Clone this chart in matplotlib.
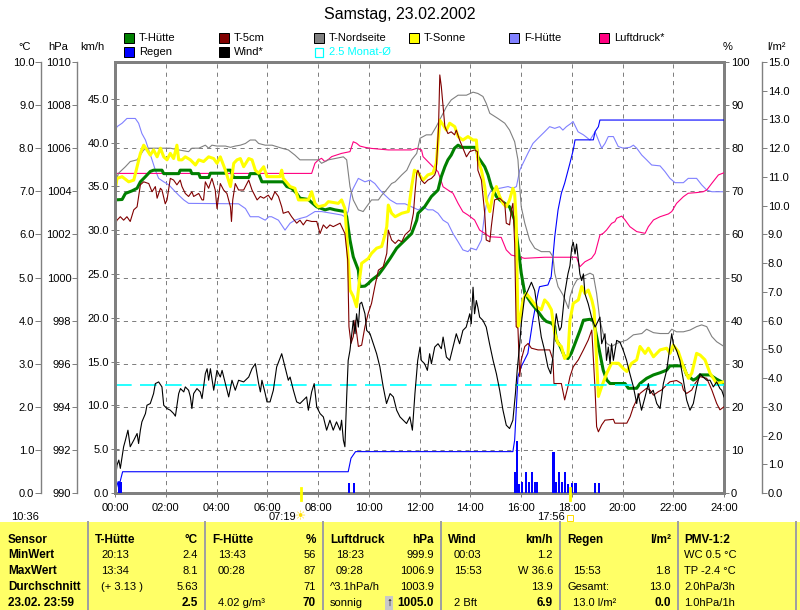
import matplotlib.pyplot as plt
import numpy as np
from matplotlib.patches import Rectangle

plt.rcParams['font.family'] = ['Liberation Sans', 'DejaVu Sans']
plt.rcParams['font.size'] = 8
plt.rcParams['lines.scale_dashes'] = False

# ---- data: (hour, value) ----
t_huette = [(0.00, 6.80), (0.28, 6.81), (0.41, 6.95), (0.67, 7.01), (0.87, 7.07), (1.00, 7.22), (1.20, 7.34),
            (1.39, 7.46), (1.52, 7.49), (1.85, 7.49), (1.92, 7.41), (2.51, 7.41), (2.57, 7.49), (2.97, 7.49),
            (3.03, 7.41), (3.30, 7.41), (3.36, 7.32), (3.69, 7.32), (3.76, 7.42), (4.35, 7.42), (4.41, 7.49),
            (4.55, 7.49), (4.68, 7.32), (5.27, 7.32), (5.33, 7.41), (5.66, 7.41), (5.79, 7.22), (6.63, 7.22),
            (6.77, 7.11), (6.96, 7.07), (7.16, 6.95), (7.29, 6.84), (7.62, 6.81), (7.75, 6.74), (7.95, 6.64),
            (8.28, 6.57), (8.47, 6.60), (8.67, 6.57), (9.06, 6.53), (9.13, 6.41), (9.26, 5.87), (9.39, 5.48),
            (9.59, 5.17), (9.65, 4.79), (9.85, 4.80), (9.98, 4.86), (10.11, 4.94), (10.38, 5.06), (10.57, 5.21),
            (10.84, 5.44), (11.10, 5.68), (11.43, 5.87), (11.69, 6.02), (11.89, 6.33), (11.94, 6.49),
            (12.20, 6.64), (12.47, 6.88), (12.73, 7.03), (12.86, 7.34), (13.00, 7.57), (13.12, 7.73),
            (13.25, 7.84), (13.38, 8.00), (13.52, 8.07), (13.65, 8.02), (14.24, 8.02), (14.30, 7.80),
            (14.57, 7.57), (14.70, 7.38), (14.83, 7.11), (15.03, 6.88), (15.16, 6.80), (15.36, 6.72),
            (15.55, 6.64), (15.75, 6.33), (15.88, 5.72), (16.01, 5.10), (16.15, 4.63), (16.41, 4.40),
            (16.67, 4.21), (16.87, 4.05), (17.00, 3.98), (17.20, 3.94), (17.33, 3.86), (17.39, 3.55),
            (17.52, 3.43), (17.72, 3.16), (17.85, 3.12), (17.98, 3.24), (18.13, 3.47), (18.33, 3.78),
            (18.46, 4.01), (18.72, 4.03), (18.85, 4.01), (18.98, 3.63), (19.11, 3.24), (19.24, 2.85),
            (19.38, 2.62), (19.51, 2.54), (20.10, 2.54), (20.23, 2.43), (20.56, 2.43), (20.69, 2.54),
            (20.95, 2.66), (21.22, 2.74), (21.48, 2.79), (21.74, 2.85), (21.87, 2.95), (22.40, 2.95),
            (22.53, 2.74), (22.79, 2.62), (22.92, 2.66), (23.06, 2.74), (23.45, 2.74), (23.71, 2.64),
            (23.91, 2.58), (24.00, 2.54)]

t_sonne = [(0.00, 6.99), (0.08, 7.30), (0.28, 7.34), (0.54, 7.22), (0.74, 7.26), (0.87, 7.57), (1.00, 7.88),
           (1.13, 8.07), (1.26, 7.96), (1.39, 7.84), (1.52, 7.96), (1.66, 7.80), (1.79, 8.00), (1.92, 7.80),
           (2.05, 7.73), (2.18, 7.88), (2.31, 7.76), (2.44, 8.07), (2.51, 7.73), (2.64, 7.73), (2.77, 7.80),
           (2.97, 7.73), (3.17, 7.61), (3.30, 7.73), (3.49, 7.69), (3.69, 7.80), (3.89, 7.76), (4.02, 7.65),
           (4.15, 7.80), (4.35, 7.49), (4.55, 7.11), (4.68, 7.65), (4.81, 7.73), (4.94, 7.76), (5.07, 7.57),
           (5.27, 7.76), (5.40, 7.73), (5.53, 7.49), (5.66, 7.42), (5.86, 7.57), (5.99, 7.34), (6.50, 7.34),
           (6.57, 7.49), (6.63, 7.30), (6.90, 7.11), (7.09, 7.07), (7.23, 6.80), (7.62, 6.80), (7.75, 6.99),
           (7.88, 6.72), (8.01, 6.64), (8.28, 6.68), (8.41, 6.76), (8.80, 6.72), (8.93, 6.80), (9.06, 6.60),
           (9.13, 6.02), (9.19, 5.41), (9.26, 4.71), (9.39, 4.56), (9.52, 4.32), (9.65, 5.02), (9.72, 5.33),
           (9.98, 5.44), (10.11, 5.56), (10.31, 5.68), (10.51, 5.72), (10.64, 5.99), (10.71, 6.18),
           (10.77, 6.68), (10.90, 6.49), (11.04, 6.41), (11.30, 6.49), (11.56, 6.53), (11.69, 7.11),
           (11.80, 7.49), (11.95, 7.42), (12.14, 7.26), (12.33, 7.38), (12.53, 7.42), (12.66, 7.65),
           (12.80, 8.65), (12.93, 8.54), (13.06, 8.42), (13.19, 8.58), (13.39, 8.50), (13.52, 8.27),
           (13.71, 8.19), (13.91, 8.27), (14.11, 8.19), (14.24, 8.19), (14.30, 7.73), (14.44, 7.49),
           (14.57, 7.11), (14.63, 6.80), (14.77, 6.53), (14.90, 6.95), (15.03, 7.11), (15.16, 6.88),
           (15.29, 6.72), (15.42, 6.64), (15.55, 6.80), (15.68, 7.07), (15.75, 6.95), (15.81, 6.33),
           (15.88, 3.86), (15.95, 4.01), (16.08, 4.48), (16.21, 4.63), (16.41, 4.48), (16.61, 4.32),
           (16.80, 4.25), (16.93, 4.48), (17.06, 4.40), (17.20, 4.25), (17.33, 3.70), (17.46, 3.47),
           (17.59, 3.40), (17.72, 3.12), (17.85, 3.20), (17.93, 4.01), (18.06, 4.40), (18.26, 4.48),
           (18.39, 4.79), (18.52, 4.63), (18.65, 4.71), (18.79, 4.48), (18.88, 4.25), (18.98, 3.09),
           (19.05, 2.24), (19.18, 2.47), (19.38, 2.78), (19.57, 3.01), (19.84, 3.01), (20.03, 2.89),
           (20.17, 2.82), (20.36, 3.01), (20.56, 3.09), (20.69, 3.40), (20.89, 3.24), (21.02, 3.36),
           (21.22, 3.16), (21.48, 3.32), (21.74, 3.36), (21.87, 3.24), (22.00, 3.43), (22.20, 3.28),
           (22.40, 2.93), (22.60, 2.66), (22.73, 2.78), (22.92, 3.24), (23.06, 3.20), (23.25, 3.09),
           (23.45, 2.78), (23.71, 2.54), (24.00, 2.58)]

t_5cm = [(0.00, 6.22), (0.08, 6.33), (0.21, 6.41), (0.34, 6.33), (0.47, 6.41), (0.60, 6.30), (0.74, 6.57),
         (0.87, 6.64), (1.00, 7.15), (1.13, 7.22), (1.33, 7.18), (1.46, 6.99), (1.59, 7.11), (1.66, 6.84),
         (1.79, 7.07), (1.85, 7.03), (1.98, 6.71), (2.05, 6.80), (2.18, 7.30), (2.31, 7.26), (2.44, 7.15),
         (2.57, 7.26), (2.64, 7.11), (2.77, 6.95), (2.90, 6.88), (3.03, 6.99), (3.10, 6.88), (3.30, 6.95),
         (3.43, 6.80), (3.49, 6.80), (3.56, 7.22), (3.69, 7.07), (3.82, 7.30), (3.95, 7.03), (4.02, 6.60),
         (4.15, 7.18), (4.28, 7.03), (4.41, 6.95), (4.55, 6.64), (4.59, 6.30), (4.64, 6.80), (4.74, 7.18),
         (4.87, 7.03), (5.07, 7.03), (5.27, 7.26), (5.40, 7.03), (5.60, 6.80), (5.73, 6.88), (5.86, 6.84),
         (6.04, 6.91), (6.17, 6.80), (6.30, 6.99), (6.44, 6.88), (6.57, 6.64), (6.63, 6.49), (6.83, 6.53),
         (6.96, 6.41), (7.16, 6.26), (7.29, 6.33), (7.42, 6.22), (7.55, 6.33), (7.75, 6.30), (7.95, 6.30),
         (8.08, 6.02), (8.21, 6.22), (8.34, 6.14), (8.47, 6.22), (8.60, 6.18), (8.74, 6.22), (8.87, 6.26),
         (9.06, 6.02), (9.17, 5.41), (9.22, 3.86), (9.30, 3.47), (9.39, 3.63), (9.46, 4.01), (9.59, 3.40),
         (9.72, 3.43), (9.85, 3.86), (9.98, 4.17), (10.11, 4.40), (10.24, 4.79), (10.38, 5.17),
         (10.57, 5.25), (10.71, 5.56), (10.77, 6.10), (10.90, 5.87), (11.04, 5.79), (11.17, 5.87),
         (11.30, 5.83), (11.43, 5.99), (11.63, 6.10), (11.76, 6.49), (11.82, 6.95), (11.89, 7.42),
         (11.94, 7.49), (12.07, 7.26), (12.20, 7.18), (12.33, 7.26), (12.47, 7.30), (12.60, 7.38),
         (12.66, 7.49), (12.75, 8.50), (12.80, 9.70), (12.86, 9.43), (12.93, 8.96), (13.00, 8.50),
         (13.12, 8.34), (13.25, 8.38), (13.38, 8.31), (13.45, 8.42), (13.58, 8.19), (13.71, 8.00),
         (13.85, 7.80), (13.98, 7.92), (14.17, 7.96), (14.28, 7.92), (14.30, 7.49), (14.44, 7.26),
         (14.57, 6.49), (14.63, 5.87), (14.77, 5.83), (14.83, 6.18), (14.96, 6.80), (15.16, 6.84),
         (15.36, 6.72), (15.42, 6.26), (15.55, 6.22), (15.62, 6.57), (15.68, 6.72), (15.75, 5.79),
         (15.81, 3.86), (15.88, 3.82), (15.95, 2.70), (16.01, 3.09), (16.15, 3.40), (16.28, 3.47),
         (16.41, 3.36), (16.67, 3.32), (17.13, 3.32), (17.26, 3.09), (17.30, 2.54), (17.59, 2.54),
         (17.72, 2.16), (17.85, 2.47), (17.93, 2.70), (18.06, 2.93), (18.26, 3.09), (18.46, 3.32),
         (18.65, 3.55), (18.79, 3.78), (18.92, 2.39), (18.98, 1.54), (19.05, 1.42), (19.18, 1.58),
         (19.31, 1.69), (19.64, 1.71), (19.70, 1.62), (20.17, 1.62), (20.30, 1.77), (20.43, 2.00),
         (20.56, 2.16), (20.69, 2.31), (20.95, 2.43), (21.08, 2.39), (21.22, 2.27), (21.41, 2.35),
         (21.54, 2.39), (21.74, 2.51), (21.87, 2.58), (22.13, 2.61), (22.33, 2.54), (22.40, 2.39),
         (22.53, 2.31), (22.73, 2.39), (22.86, 2.54), (23.06, 2.70), (23.32, 2.66), (23.52, 2.39),
         (23.71, 2.08), (23.84, 1.93), (24.00, 2.00)]

t_nord = [(0.00, 7.18), (0.14, 7.42), (0.41, 7.57), (0.60, 7.69), (0.87, 7.73), (1.00, 7.84), (1.13, 7.96),
          (1.33, 8.00), (2.18, 8.00), (2.51, 7.96), (2.90, 7.92), (3.03, 8.00), (3.30, 8.00), (3.56, 8.07),
          (3.69, 8.00), (3.82, 8.07), (4.02, 8.05), (4.35, 8.05), (4.55, 8.02), (4.74, 8.05), (4.94, 8.07),
          (5.14, 8.11), (5.33, 8.19), (5.53, 8.19), (5.66, 8.11), (5.92, 8.07), (6.19, 8.07), (6.57, 8.00),
          (6.83, 7.96), (7.09, 7.84), (7.29, 7.73), (8.01, 7.73), (8.14, 7.65), (8.28, 7.69), (8.41, 7.73),
          (8.67, 7.76), (9.00, 7.80), (9.13, 7.73), (9.26, 7.11), (9.39, 6.80), (9.59, 6.57), (9.78, 6.53),
          (9.91, 6.64), (10.11, 6.80), (10.38, 6.80), (10.51, 6.91), (10.64, 6.99), (10.90, 7.18),
          (11.04, 7.22), (11.30, 7.38), (11.50, 7.49), (11.69, 7.73), (11.89, 7.88), (12.02, 8.23),
          (12.27, 8.31), (12.47, 8.31), (12.66, 8.50), (12.86, 8.73), (13.06, 8.96), (13.25, 9.12),
          (13.52, 9.23), (13.85, 9.23), (14.11, 9.30), (14.30, 9.27), (14.50, 9.20), (14.63, 9.04),
          (14.77, 8.81), (15.09, 8.69), (15.36, 8.58), (15.55, 8.42), (15.75, 8.15), (15.88, 7.73),
          (15.95, 7.11), (16.01, 6.64), (16.15, 6.26), (16.34, 5.87), (16.54, 5.68), (16.80, 5.60),
          (17.13, 5.60), (17.26, 5.48), (17.33, 5.10), (17.46, 4.79), (17.66, 4.59), (17.79, 4.40),
          (17.87, 4.28), (17.93, 4.55), (18.06, 4.79), (18.20, 4.94), (18.46, 5.03), (18.72, 5.10),
          (18.85, 5.06), (18.98, 4.63), (19.11, 4.01), (19.24, 3.70), (19.38, 3.47), (19.57, 3.40),
          (19.77, 3.47), (19.97, 3.51), (20.17, 3.55), (20.43, 3.67), (20.76, 3.70), (20.95, 3.80),
          (21.22, 3.72), (21.48, 3.70), (21.81, 3.70), (21.94, 3.80), (22.13, 3.74), (22.40, 3.74),
          (22.66, 3.78), (22.92, 3.86), (23.12, 3.90), (23.32, 3.86), (23.52, 3.63), (23.71, 3.51),
          (24.00, 3.40)]

f_huette = [(0.00, 83.8), (0.08, 85.0), (0.28, 85.8), (0.47, 86.9), (0.80, 86.9), (0.93, 85.8), (1.06, 83.4),
            (1.20, 81.9), (1.33, 79.6), (1.46, 77.3), (1.59, 74.9), (1.72, 73.0), (1.92, 72.2), (2.12, 71.5),
            (2.31, 70.3), (2.51, 69.1), (2.71, 68.0), (2.90, 67.2), (4.87, 67.1), (5.14, 66.0), (5.33, 64.1),
            (5.66, 64.1), (5.92, 63.3), (6.06, 64.1), (6.17, 64.1), (6.44, 63.3), (6.70, 61.0), (6.90, 62.6),
            (7.09, 63.3), (7.29, 63.7), (7.55, 64.1), (7.88, 65.3), (8.14, 65.3), (8.54, 64.9), (8.93, 64.5),
            (9.06, 64.1), (9.19, 65.3), (9.30, 69.5), (9.39, 70.7), (9.59, 73.0), (9.85, 72.2), (10.05, 72.6),
            (10.24, 71.8), (10.44, 70.3), (10.64, 69.1), (10.84, 68.0), (11.10, 67.1), (11.43, 67.1),
            (11.69, 66.4), (11.95, 65.7), (12.14, 66.4), (12.33, 65.7), (12.53, 65.7), (12.73, 64.9),
            (12.93, 63.3), (13.12, 62.6), (13.32, 60.2), (13.52, 58.3), (13.71, 56.4), (13.91, 56.0),
            (14.04, 56.8), (14.24, 56.4), (14.44, 58.7), (14.57, 64.9), (14.70, 68.8), (14.83, 70.3),
            (15.16, 70.7), (15.49, 71.1), (15.68, 70.7), (15.82, 71.1), (15.95, 74.9), (16.08, 76.5),
            (16.27, 78.8), (16.47, 81.1), (16.67, 82.3), (16.93, 83.8), (17.13, 85.0), (17.33, 84.6),
            (17.52, 85.0), (17.65, 84.2), (17.79, 85.0), (17.98, 85.8), (18.05, 86.2), (18.25, 83.8),
            (18.46, 83.1), (18.72, 81.9), (18.92, 83.8), (19.05, 81.9), (19.18, 80.0), (19.31, 81.1),
            (19.44, 82.7), (19.64, 82.7), (19.83, 80.4), (20.03, 80.0), (20.29, 80.2), (20.43, 80.7),
            (20.56, 80.0), (20.76, 78.4), (20.95, 77.3), (21.15, 76.1), (21.48, 75.9), (21.67, 74.6),
            (21.87, 73.0), (22.07, 72.0), (22.40, 72.0), (22.59, 73.0), (22.92, 73.0), (23.12, 71.5),
            (23.32, 70.3), (23.52, 69.9), (24.00, 69.9)]

luftdruck = [(0.00, 1004.83), (7.75, 1004.83), (7.88, 1005.30), (8.01, 1005.45), (8.14, 1005.53),
             (8.27, 1005.38), (8.41, 1005.48), (8.54, 1005.61), (8.93, 1005.76), (9.26, 1005.84),
             (9.39, 1006.30), (9.52, 1006.23), (9.65, 1006.10), (9.85, 1006.04), (10.11, 1005.99),
             (10.77, 1005.92), (11.69, 1005.92), (11.89, 1005.99), (12.08, 1005.92), (12.14, 1005.61),
             (12.33, 1005.38), (12.53, 1005.14), (12.73, 1004.91), (12.93, 1004.21), (13.12, 1004.06),
             (13.32, 1003.91), (13.52, 1003.44), (13.71, 1003.05), (13.91, 1002.90), (14.17, 1002.67),
             (14.37, 1002.20), (14.57, 1002.05), (14.76, 1001.89), (15.22, 1001.86), (15.42, 1001.28),
             (15.62, 1001.04), (15.88, 1000.97), (16.14, 1000.89), (16.93, 1000.94), (18.19, 1000.94),
             (18.32, 1000.50), (18.52, 1000.73), (18.78, 1000.89), (18.92, 1001.12), (19.11, 1001.97),
             (19.24, 1002.05), (19.37, 1002.20), (19.57, 1002.51), (19.70, 1002.59), (19.77, 1002.75),
             (19.97, 1002.85), (20.10, 1002.67), (20.29, 1002.36), (20.56, 1002.13), (20.89, 1002.05),
             (21.02, 1002.36), (21.22, 1002.67), (21.48, 1002.82), (21.81, 1002.95), (21.94, 1003.06),
             (22.13, 1003.44), (22.40, 1003.75), (22.59, 1003.91), (22.92, 1003.94), (23.18, 1003.98),
             (23.32, 1004.06), (23.52, 1004.37), (23.78, 1004.76), (24.00, 1004.86)]

wind = [(0.00, 1.29), (0.08, 3.19), (0.15, 3.76), (0.21, 2.81), (0.28, 4.14), (0.34, 5.28), (0.41, 6.03),
        (0.51, 7.17), (0.60, 5.28), (0.74, 6.03), (0.87, 6.79), (0.93, 5.65), (1.00, 7.17), (1.06, 8.12),
        (1.20, 9.07), (1.26, 10.02), (1.39, 10.21), (1.52, 11.35), (1.59, 12.49), (1.72, 12.68), (1.85, 12.11),
        (1.92, 10.02), (2.05, 9.64), (2.18, 9.45), (2.31, 9.07), (2.38, 8.77), (2.51, 11.35), (2.58, 11.92),
        (2.71, 11.54), (2.77, 12.11), (2.90, 11.73), (2.97, 10.97), (3.03, 9.64), (3.10, 11.35), (3.23, 11.92),
        (3.36, 11.54), (3.43, 10.78), (3.56, 13.62), (3.63, 14.19), (3.69, 12.87), (3.76, 14.19), (3.89, 11.73),
        (4.02, 14.00), (4.15, 13.24), (4.22, 14.00), (4.35, 12.49), (4.48, 10.97), (4.61, 12.87), (4.74, 11.73),
        (4.87, 12.87), (5.07, 12.68), (5.27, 13.24), (5.40, 14.19), (5.53, 14.76), (5.66, 12.49), (5.73, 11.54),
        (5.79, 12.87), (5.92, 11.35), (5.99, 10.40), (6.11, 10.40), (6.24, 11.73), (6.37, 14.38), (6.57, 15.90),
        (6.70, 14.38), (6.83, 12.87), (6.90, 13.24), (7.03, 11.73), (7.16, 10.40), (7.29, 10.21), (7.42, 10.59),
        (7.55, 10.97), (7.62, 9.45), (7.75, 11.54), (7.85, 12.49), (7.95, 9.83), (8.08, 9.07), (8.21, 8.69),
        (8.34, 7.17), (8.47, 8.31), (8.60, 7.17), (8.73, 8.12), (8.87, 7.17), (8.93, 8.31), (9.00, 6.03),
        (9.06, 5.28), (9.13, 10.97), (9.19, 15.14), (9.26, 16.28), (9.39, 19.70), (9.46, 18.18), (9.52, 20.46),
        (9.59, 18.94), (9.65, 21.59), (9.72, 21.78), (9.85, 20.46), (9.92, 18.56), (10.05, 18.18),
        (10.18, 17.04), (10.31, 15.90), (10.44, 14.38), (10.57, 12.11), (10.70, 10.21), (10.84, 11.35),
        (10.97, 10.97), (11.10, 9.45), (11.23, 8.69), (11.36, 8.31), (11.49, 7.93), (11.62, 8.69),
        (11.72, 7.17), (11.82, 11.35), (11.93, 15.14), (12.02, 16.66), (12.07, 15.14), (12.20, 14.76),
        (12.31, 14.00), (12.40, 15.90), (12.47, 14.76), (12.60, 16.66), (12.73, 17.04), (12.86, 16.47),
        (12.93, 17.80), (13.06, 15.52), (13.19, 15.14), (13.32, 16.66), (13.45, 18.18), (13.58, 17.04),
        (13.71, 18.56), (13.84, 18.94), (13.98, 20.46), (14.04, 19.32), (14.11, 23.49), (14.17, 20.46),
        (14.24, 21.97), (14.30, 21.21), (14.37, 20.08), (14.50, 19.70), (14.63, 18.94), (14.76, 17.04),
        (14.90, 15.14), (15.03, 13.62), (15.16, 11.73), (15.29, 9.45), (15.42, 7.74), (15.55, 7.36),
        (15.68, 8.31), (15.78, 11.35), (15.85, 14.00), (15.95, 17.04), (16.01, 19.32), (16.14, 22.35),
        (16.27, 23.11), (16.41, 24.06), (16.54, 23.11), (16.67, 20.46), (16.80, 17.80), (16.93, 16.28),
        (17.06, 14.38), (17.17, 13.62), (17.26, 15.52), (17.33, 18.94), (17.39, 20.46), (17.46, 19.32),
        (17.52, 18.56), (17.59, 18.94), (17.72, 22.73), (17.85, 25.01), (17.93, 25.96), (18.00, 28.05),
        (18.06, 28.61), (18.13, 27.29), (18.19, 28.42), (18.26, 26.53), (18.32, 25.01), (18.39, 24.25),
        (18.46, 25.01), (18.52, 22.73), (18.65, 21.59), (18.78, 20.08), (18.92, 18.94), (19.05, 19.70),
        (19.11, 20.08), (19.18, 17.04), (19.31, 18.18), (19.37, 15.14), (19.44, 16.66), (19.51, 14.76),
        (19.57, 17.04), (19.64, 15.14), (19.77, 17.42), (19.90, 17.23), (20.03, 16.28), (20.16, 15.14),
        (20.29, 13.62), (20.43, 12.11), (20.56, 10.21), (20.62, 11.35), (20.75, 9.45), (20.89, 10.97),
        (21.02, 12.49), (21.08, 11.35), (21.21, 11.73), (21.35, 10.21), (21.48, 9.64), (21.61, 12.49),
        (21.74, 14.00), (21.87, 16.66), (21.94, 18.18), (22.00, 17.04), (22.13, 16.28), (22.26, 15.14),
        (22.40, 12.87), (22.53, 10.59), (22.66, 9.45), (22.79, 10.21), (22.92, 12.11), (23.05, 13.62),
        (23.18, 13.24), (23.32, 12.87), (23.45, 12.87), (23.58, 12.11), (23.71, 12.68), (23.84, 11.92),
        (23.91, 11.73), (24.00, 10.97)]

regen_summe = [(0.00, 0.00), (0.12, 0.39), (0.20, 0.39), (0.30, 0.74), (9.19, 0.74), (9.30, 1.21), (9.48, 1.44),
               (15.68, 1.44), (15.75, 1.84), (15.88, 4.05), (16.01, 4.40), (16.27, 4.86), (16.47, 6.02),
               (16.67, 6.95), (16.73, 7.18), (17.06, 7.24), (17.19, 7.53), (17.33, 8.92), (17.46, 9.85),
               (17.59, 10.43), (17.72, 10.78), (17.92, 11.45), (18.06, 11.94), (18.13, 12.29), (18.85, 12.29),
               (18.92, 12.58), (19.05, 12.75), (19.11, 12.98), (24.00, 12.98)]

regen_menge = [(0.17, 0.37), (0.25, 0.37), (9.22, 0.34), (9.43, 0.34), (15.77, 0.72), (15.85, 1.82),
               (15.93, 0.31), (16.05, 0.37), (16.20, 0.72), (16.30, 0.37), (16.45, 0.72), (16.55, 0.37),
               (16.63, 0.37), (17.28, 1.42), (17.37, 0.37), (17.50, 0.72), (17.61, 0.37), (17.75, 0.72),
               (17.84, 0.31), (18.02, 0.34), (18.15, 0.34), (18.91, 0.34), (19.06, 0.34)]

monat_mittel = 2.5
sonnenaufgang = 7 + 19 / 60
sonnenuntergang = 17 + 56 / 60

hour_ticks = list(range(0, 25, 2))
hour_labels = ['%02d:00' % h for h in hour_ticks]

legend_row1 = [('T-Hütte', '#008000'), ('T-5cm', '#800000'), ('T-Nordseite', '#808080'),
               ('T-Sonne', '#ffff00'), ('F-Hütte', '#8080ff'), ('Luftdruck*', '#ff0080')]
legend_row2 = [('Regen', '#0000ff'), ('Wind*', '#000000')]

# bottom summary table
sensor_col = ['Sensor', 'MinWert', 'MaxWert', 'Durchschnitt', '23.02. 23:59']
table_heads = ['T-Hütte', 'F-Hütte', 'Luftdruck', 'Wind', 'Regen']
table_units = ['°C', '%', 'hPa', 'km/h', 'l/m²']
table_left = [['20:13', '13:34', '(+ 3.13 )', ''],
              ['13:43', '00:28', '', '4.02 g/m³'],
              ['18:23', '09:28', '^3.1hPa/h', 'sonnig'],
              ['00:03', '15:53', '', '2 Bft'],
              ['', '15:53', 'Gesamt:', '13.0 l/m²']]
table_right = [['2.4', '8.1', '5.63', '2.5'],
               ['56', '87', '71', '70'],
               ['999.9', '1006.9', '1003.9', '1005.0'],
               ['1.2', 'W 36.6', '13.9', '6.9'],
               ['', '1.8', '13.0', '0.0']]
pmv_col = ['PMV-1:2', 'WC 0.5 °C', 'TP -2.4 °C', '2.0hPa/3h', '1.0hPa/1h']

# ---- figure ----
W, H = 800, 610
PX = 0.72  # one pixel in points
GRAY = '#808080'
fig = plt.figure(figsize=(W / 100, H / 100), dpi=100)


def fx(x):
    return x / W


def fy(y):
    return 1 - y / H


L, R, T, B = 115, 724, 62, 493
ax_f = fig.add_axes([fx(L), fy(B), (R - L) / W, (B - T) / H])
ax_p = ax_f.twinx()
ax_r = ax_f.twinx()
ax_t = ax_f.twinx()
ax_w = ax_f.twinx()


def side_axis(ax, side, offset, lo, hi, ticks, fmt, direction='out', length=6, lw=1.4, pad=1):
    for name, sp in ax.spines.items():
        sp.set_visible(name == side)
    sp = ax.spines[side]
    sp.set_position(('outward', offset * PX))
    sp.set_color(GRAY)
    sp.set_linewidth(lw * PX)
    ax.yaxis.set_ticks_position(side)
    ax.set_ylim(lo, hi)
    ax.set_yticks(ticks)
    ax.set_yticklabels([fmt % v for v in ticks])
    ax.tick_params(axis='y', direction=direction, length=length * PX, width=PX,
                   color=GRAY, pad=pad, labelsize=8)


side_axis(ax_t, 'left', 74, 0, 10, np.arange(0, 10.1, 1), '%.1f', pad=0.5)
side_axis(ax_p, 'left', 38, 990, 1010, np.arange(990, 1011, 2), '%d', length=5, pad=0.5)
side_axis(ax_w, 'left', 0, 0, 49.2, np.arange(0, 46, 5), '%.1f', direction='inout', length=8, lw=3, pad=1.5)
side_axis(ax_r, 'right', 38, 0, 15, np.arange(0, 15.1, 1), '%.1f', length=5, pad=0.5)

# host axes: humidity, frame and grid
ax_f.set_xlim(0, 24)
ax_f.set_ylim(0, 100)
ax_f.set_xticks(hour_ticks)
ax_f.set_xticklabels(hour_labels)
ax_f.set_yticks(range(0, 101, 10))
ax_f.yaxis.tick_right()
ax_f.tick_params(axis='y', direction='out', length=5 * PX, width=PX, color=GRAY, pad=1.5, labelsize=8)
ax_f.tick_params(axis='x', direction='out', length=4 * PX, width=PX, color=GRAY, pad=4, labelsize=8)
ax_f.grid(True, color=GRAY, linestyle=(0, (3, 3)), linewidth=PX)
for sp in ax_f.spines.values():
    sp.set_color(GRAY)
    sp.set_linewidth(3 * PX)

for ax in (ax_p, ax_r, ax_t, ax_w):
    ax.set_xlim(0, 24)


def xy(series):
    a = np.array(series)
    return a[:, 0], a[:, 1]


ax_f.plot(*xy(f_huette), color='#8080ff', lw=0.8)
ax_p.plot(*xy(luftdruck), color='#ff0080', lw=0.8)
ax_r.plot(*xy(regen_summe), color='#0000ff', lw=0.8)
bt, bv = xy(regen_menge)
ax_r.bar(bt, bv, width=0.085, color='#0000ff', linewidth=0)

ax_t.plot(*xy(t_nord), color='#808080', lw=0.8)
ax_t.plot(*xy(t_huette), color='#008000', lw=2.2)
ax_t.plot(*xy(t_sonne), color='#ffff00', lw=2.2)
ax_t.plot(*xy(t_5cm), color='#800000', lw=0.8)
ax_t.axhline(monat_mittel, color='#00ffff', lw=1.2, linestyle=(0, (12, 6)))
for st in (sonnenaufgang, sonnenuntergang):
    ax_t.plot([st, st], [0.12, -0.17], color='#ffff00', lw=2, clip_on=False)

ax_w.plot(*xy(wind), color='black', lw=0.8)

# ---- texts around the chart ----
fig.text(0.5, fy(15), 'Samstag, 23.02.2002', ha='center', va='center', fontsize=11.5)
for x, s in [(25, '°C'), (58, 'hPa'), (92, 'km/h'), (728, '%'), (776, 'l/m²')]:
    fig.text(fx(x), fy(47), s, ha='center', va='center', fontsize=8)

legend_x1 = [124, 219, 314, 409, 509, 599]
for (name, col), x in zip(legend_row1, legend_x1):
    fig.add_artist(Rectangle((fx(x), fy(43)), 10 / W, 10 / H, transform=fig.transFigure,
                             facecolor=col, edgecolor='black', lw=PX))
    fig.text(fx(x + 15), fy(38), name, ha='left', va='center', fontsize=8)
for (name, col), x in zip(legend_row2, legend_x1[:2]):
    fig.add_artist(Rectangle((fx(x), fy(57)), 10 / W, 10 / H, transform=fig.transFigure,
                             facecolor=col, edgecolor='black', lw=PX))
    fig.text(fx(x + 15), fy(52), name, ha='left', va='center', fontsize=8)
fig.add_artist(Rectangle((fx(315), fy(57)), 8 / W, 9 / H, transform=fig.transFigure,
                         facecolor='none', edgecolor='#00ffff', lw=1.2 * PX))
fig.text(fx(329), fy(52), '%.1f Monat-Ø' % monat_mittel, ha='left', va='center', fontsize=8, color='#00ffff')

fig.text(fx(11), fy(517), '10:36', ha='left', va='center', fontsize=8)
fig.text(fx(296), fy(517), '07:19', ha='right', va='center', fontsize=8)
fig.text(fx(301), fy(517), '☀', ha='center', va='center', fontsize=9, color='#ffdd00',
         family='DejaVu Sans')
fig.text(fx(565), fy(517), '17:56', ha='right', va='center', fontsize=8)
fig.add_artist(Rectangle((fx(567), fy(521)), 6 / W, 6 / H, transform=fig.transFigure,
                         facecolor='none', edgecolor='#ffdd00', lw=PX))

# ---- summary table ----
fig.add_artist(Rectangle((0, 0), 1, fy(522), transform=fig.transFigure, facecolor='#ffff66',
                         edgecolor='none'))
col_left = [88, 205, 323, 441, 560, 678]
for x in col_left + [796]:
    fig.add_artist(plt.Line2D([fx(x), fx(x)], [0, fy(522)], transform=fig.transFigure,
                              color='#a0a0a0', lw=2 * PX))
row_y = [540, 555, 571, 587, 603]
for s, y in zip(sensor_col, row_y):
    fig.text(fx(8), fy(y), s, ha='left', va='center', fontsize=8.5, fontweight='bold')
for c in range(5):
    x0 = col_left[c]
    xr = col_left[c + 1] - 7
    fig.text(fx(x0 + 7), fy(row_y[0]), table_heads[c], ha='left', va='center', fontsize=8.5, fontweight='bold')
    fig.text(fx(xr), fy(row_y[0]), table_units[c], ha='right', va='center', fontsize=8.5, fontweight='bold')
    for r in range(4):
        s = table_left[c][r]
        if s:
            off = 13 if (s[0].isdigit() or s[0] == '(') else 7
            fig.text(fx(x0 + off), fy(row_y[r + 1]), s, ha='left', va='center', fontsize=8)
        s = table_right[c][r]
        if s:
            bold = r == 3
            fig.text(fx(xr), fy(row_y[r + 1]), s, ha='right', va='center',
                     fontsize=8.5 if bold else 8, fontweight='bold' if bold else 'normal')
fig.text(fx(392), fy(row_y[4]), '↑', ha='right', va='center', fontsize=8.5, fontweight='bold',
         bbox=dict(facecolor='#c8c8c8', edgecolor='none', pad=0.5))
for s, y in zip(pmv_col, row_y):
    fig.text(fx(684), fy(y), s, ha='left', va='center', fontsize=8.5 if s == pmv_col[0] else 8,
             fontweight='bold' if s == pmv_col[0] else 'normal')

fig.savefig('out.png', dpi=100)
